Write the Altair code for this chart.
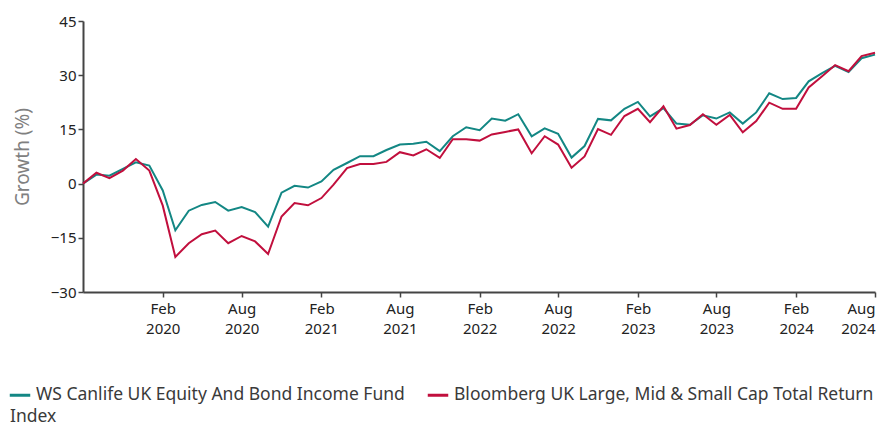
import altair as alt
import pandas as pd

start = "2019-08-01"
months = pd.date_range(start, periods=61, freq="MS").strftime("%Y-%m-%d").tolist()

fund_name = "WS Canlife UK Equity And Bond Income Fund"
index_name = "Bloomberg UK Large, Mid & Small Cap Total Return Index"

fund = [0.0, 2.5, 2.2, 4.1, 5.9, 5.0, -1.9, -12.9, -7.5, -5.9, -5.1, -7.5, -6.5, -7.9, -11.9,
        -2.5, -0.6, -1.1, 0.6, 3.8, 5.7, 7.6, 7.6, 9.3, 10.8, 11.0, 11.6, 9.0, 13.1, 15.6,
        14.8, 18.0, 17.4, 19.2, 13.1, 15.3, 13.8, 7.2, 10.4, 17.9, 17.5, 20.7, 22.6, 18.6,
        20.9, 16.6, 16.3, 18.9, 18.0, 19.7, 16.6, 19.7, 25.0, 23.4, 23.7, 28.3, 30.6, 32.6,
        30.9, 34.7, 35.7]
index = [0.0, 3.0, 1.5, 3.6, 6.8, 3.6, -6.1, -20.3, -16.5, -14.0, -13.0, -16.5, -14.5, -16.0,
         -19.5, -9.1, -5.4, -6.0, -4.0, -0.3, 4.3, 5.4, 5.4, 6.0, 8.7, 7.8, 9.5, 7.1, 12.3,
         12.3, 11.9, 13.6, 14.3, 15.0, 8.4, 13.1, 10.8, 4.4, 7.5, 15.1, 13.5, 18.7, 20.7, 17.0,
         21.4, 15.2, 16.2, 19.2, 16.3, 19.0, 14.2, 17.3, 22.4, 20.7, 20.7, 26.6, 29.7, 32.8,
         31.1, 35.3, 36.2]

tick_dates = ["2020-02-01", "2020-08-01", "2021-02-01", "2021-08-01", "2022-02-01",
              "2022-08-01", "2023-02-01", "2023-08-01", "2024-02-01", "2024-08-01"]
y_ticks = [-30, -15, 0, 15, 30, 45]
legend_wrap = ["Bloomberg UK Large, Mid & Small Cap Total Return", "Index"]

df = pd.DataFrame({
    "date": months * 2,
    "series": [fund_name] * len(months) + [index_name] * len(months),
    "value": fund + index,
})

font = "Noto Sans"
axis_color = "#444444"

lines = alt.Chart(df).mark_line(strokeWidth=2).encode(
    x=alt.X("date:T",
            scale=alt.Scale(type="utc", domain=[months[0], months[-1]]),
            axis=alt.Axis(values=[alt.DateTime(year=int(d[:4]), month=int(d[5:7]), date=1, utc=True) for d in tick_dates],
                          labelExpr="[utcFormat(datum.value, '%b'), utcFormat(datum.value, '%Y')]",
                          title=None, labelAngle=0, labelPadding=4, labelLineHeight=20)),
    y=alt.Y("value:Q",
            scale=alt.Scale(domain=[-30, 45], nice=False, zero=False),
            axis=alt.Axis(values=y_ticks, title="Growth (%)", titleColor="#808080",
                          titleFontSize=19, titleFontWeight="normal", titlePadding=18,
                          labelPadding=2)),
    color=alt.Color("series:N",
                    scale=alt.Scale(domain=[fund_name, index_name], range=["#138784", "#c10f3d"]),
                    legend=alt.Legend(title=None, orient="none", legendX=-75, legendY=362,
                                      direction="horizontal", symbolType="stroke",
                                      symbolStrokeWidth=3, symbolSize=420, labelFontSize=17.5,
                                      labelColor="#3a3a3a", labelFont=font, labelLimit=600,
                                      columnPadding=16, symbolOffset=0, labelOffset=4,
                                      labelExpr="datum.label == '" + index_name + "' ? '" + legend_wrap[0] + "' : datum.label")),
)

wrap = alt.Chart(pd.DataFrame({"t": [legend_wrap[1]]})).mark_text(
    align="left", baseline="middle", font=font, fontSize=17.5, color="#3a3a3a"
).encode(x=alt.value(-73), y=alt.value(396), text="t:N")

chart = alt.layer(lines, wrap).properties(
    width=792, height=271,
    autosize=alt.AutoSizeParams(type="none"),
    padding={"left": 83, "top": 21, "right": 17, "bottom": 131},
    background="white",
).configure_view(stroke=None).configure_axis(
    grid=False, domainColor=axis_color, domainWidth=2, tickColor=axis_color, tickWidth=1.5,
    tickSize=5, labelFont=font, labelFontSize=15, labelColor="#222222", titleFont=font,
)

chart.save("out.html", embed_options={"renderer": "svg", "actions": False})
